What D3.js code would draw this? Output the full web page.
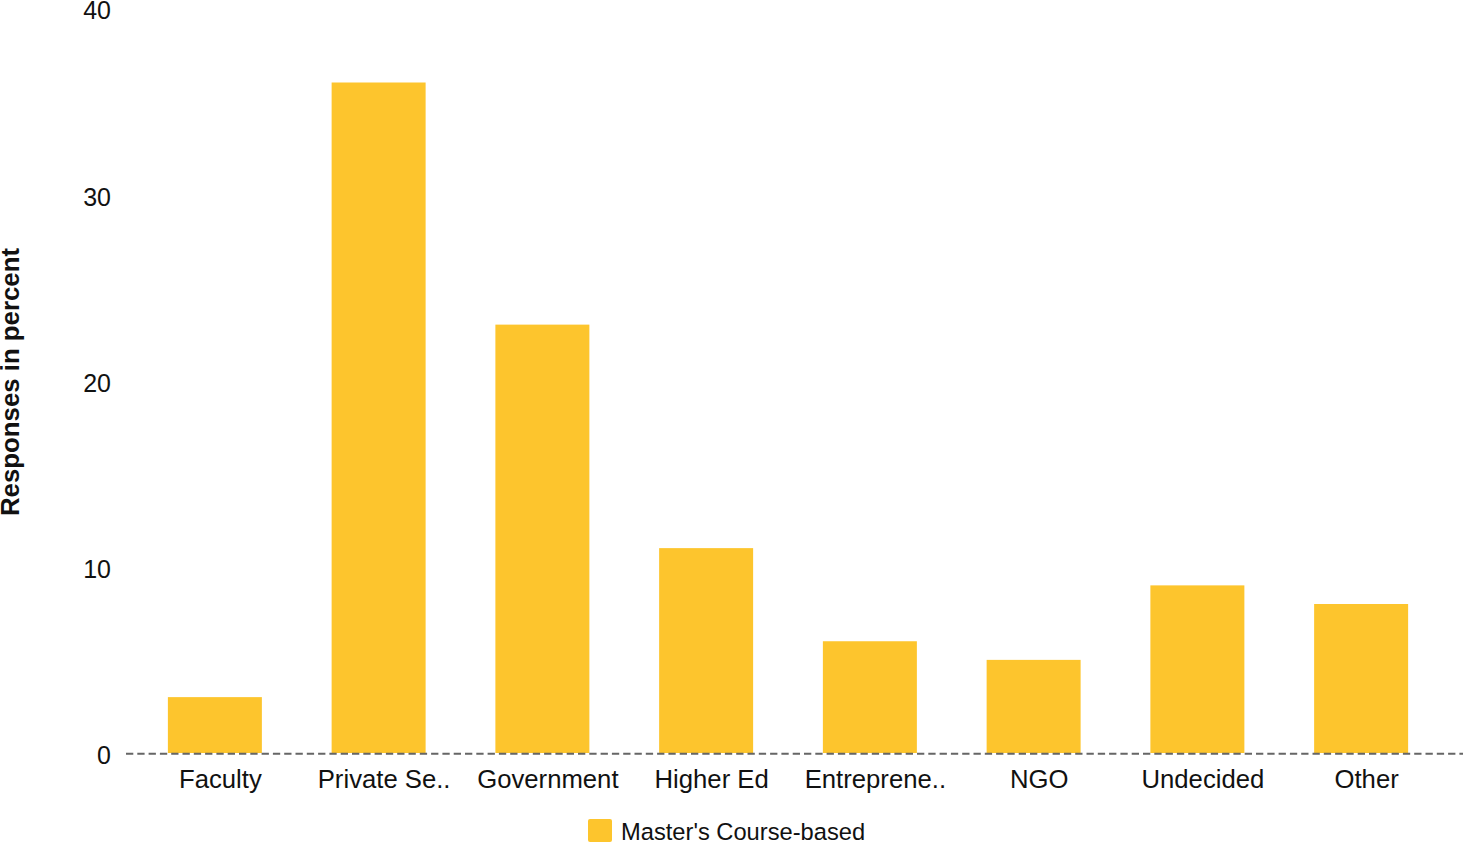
<!DOCTYPE html>
<html>
<head>
<meta charset="utf-8">
<script src="https://cdn.jsdelivr.net/npm/d3@7"></script>
<style>
  html, body { margin: 0; padding: 0; background: #fff; }
  svg { display: block; font-family: "Liberation Sans", Arial, sans-serif; }
</style>
</head>
<body>
<svg id="chart" width="1463" height="846"></svg>
<script>
const categories = ["Faculty", "Private Se..", "Government", "Higher Ed", "Entreprene..", "NGO", "Undecided", "Other"];
const values = [3, 36, 23, 11, 6, 5, 9, 8];
const yTicks = [0, 10, 20, 30, 40];
const seriesName = "Master's Course-based";
const yTitle = "Responses in percent";

const W = 1463, H = 846;
const svg = d3.select("#chart");
const barColor = "#fdc52d";

const x = d3.scaleBand()
  .domain(categories)
  .range([133, 1443])
  .paddingInner(0.426)
  .paddingOuter(0.213);

const y = d3.scaleLinear().domain([0, 40]).range([753, 8]);

// bars
svg.append("g").selectAll("rect")
  .data(categories.map((c, i) => ({ c, v: values[i] })))
  .join("rect")
  .attr("x", d => x(d.c))
  .attr("y", d => y(d.v))
  .attr("width", x.bandwidth())
  .attr("height", d => y(0) - y(d.v))
  .attr("fill", barColor);

// baseline dashed
svg.append("line")
  .attr("x1", 126).attr("x2", W)
  .attr("y1", y(0) + 0.8).attr("y2", y(0) + 0.8)
  .attr("stroke", "#666")
  .attr("stroke-width", 2)
  .attr("stroke-dasharray", "7.3,4");

// y axis labels
const yAxis = d3.axisLeft(y).tickValues(yTicks).tickSize(0).tickPadding(0);
const gy = svg.append("g").attr("transform", "translate(111,2)").call(yAxis);
gy.select(".domain").remove();
gy.selectAll("text")
  .attr("font-size", 25)
  .attr("font-family", "Liberation Sans, Arial, sans-serif")
  .attr("fill", "#111")
  .attr("dy", "0.35em");

// x axis labels
const xAxis = d3.axisBottom(x).tickSize(0).tickPadding(0);
const gx = svg.append("g").attr("transform", "translate(5.5,769)").call(xAxis);
gx.select(".domain").remove();
gx.selectAll("text")
  .attr("font-size", 25.7)
  .attr("font-family", "Liberation Sans, Arial, sans-serif")
  .attr("fill", "#111")
  .attr("dy", "0.72em");

// y title
svg.append("text")
  .attr("transform", "translate(19,382) rotate(-90)")
  .attr("text-anchor", "middle")
  .attr("font-size", 25.8)
  .attr("font-weight", "bold")
  .attr("fill", "#111")
  .text(yTitle);

// legend
const lg = svg.append("g");
lg.append("rect")
  .attr("x", 588).attr("y", 819)
  .attr("width", 24).attr("height", 23)
  .attr("rx", 2)
  .attr("fill", barColor);
lg.append("text")
  .attr("x", 621).attr("y", 840)
  .attr("font-size", 23.7)
  .attr("fill", "#111")
  .text(seriesName);
</script>
</body>
</html>
